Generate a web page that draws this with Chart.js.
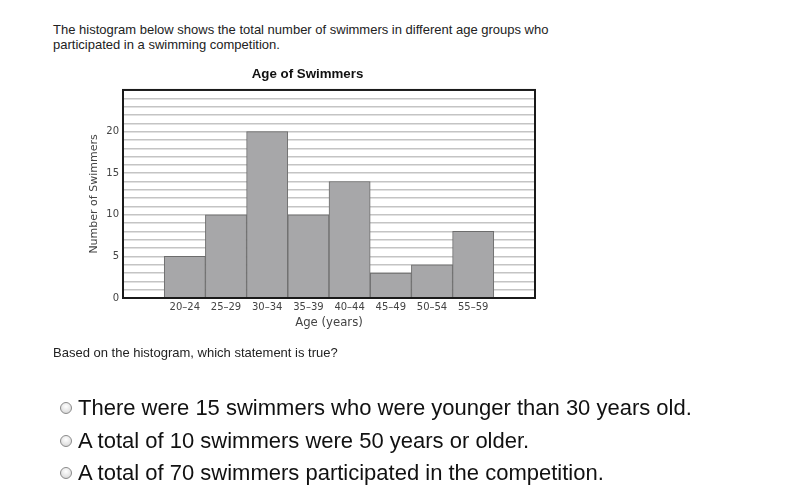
<!DOCTYPE html>
<html>
<head>
<meta charset="utf-8">
<script src="https://cdn.jsdelivr.net/npm/chart.js@4"></script>
<style>
  body { margin: 0; background: #fff; width: 800px; height: 502px; overflow: hidden; position: relative; }
  #chart { position: absolute; left: 0; top: 0; }
  .txt { position: absolute; font-family: "Liberation Sans", Arial, sans-serif; color: #222; white-space: nowrap; }
  #intro { left: 53px; top: 22px; font-size: 13px; line-height: 15px; }
  #ask { left: 53px; top: 345px; font-size: 13px; }
  .opt { left: 60px; font-size: 22px; color: #111; display: flex; align-items: center; }
  .radio { display: inline-block; width: 10px; height: 10px; border-radius: 50%; border: 1px solid #8a8a8a;
    background: radial-gradient(circle at 50% 35%, #fff 0%, #e4e4e4 60%, #c8c8c8 100%); margin-right: 6px; }
</style>
</head>
<body>
<div class="txt" id="intro">The histogram below shows the total number of swimmers in different age groups who<br>participated in a swimming competition.</div>
<canvas id="chart" width="800" height="502"></canvas>
<div class="txt" id="ask">Based on the histogram, which statement is true?</div>
<div class="txt opt" style="top:395px"><span class="radio"></span>There were 15 swimmers who were younger than 30 years old.</div>
<div class="txt opt" style="top:428px"><span class="radio"></span>A total of 10 swimmers were 50 years or older.</div>
<div class="txt opt" style="top:460px"><span class="radio"></span>A total of 70 swimmers participated in the competition.</div>
<script>
'use strict';

// Age groups (empty slots at both ends, as in the picture)
let ageGroups = ['', '20–24', '25–29', '30–34', '35–39', '40–44', '45–49', '50–54', '55–59', ''];

// Number of swimmers in each group
let swimmers = [null, 5, 10, 20, 10, 14, 3, 4, 8, null];

// Labelled ticks on the y axis
let yLabels = [0, 5, 10, 15, 20];
let yMax = 25;

// Draws the black box round the plot area
const frame = {
  id: 'frame',
  afterDraw(chart) {
    const a = chart.chartArea;
    const ctx = chart.ctx;
    ctx.save();
    ctx.strokeStyle = '#1a1a1a';
    ctx.lineWidth = 2;
    ctx.strokeRect(a.left, a.top, a.right - a.left, a.bottom - a.top);
    ctx.restore();
  }
};

const ctx = document.getElementById('chart').getContext('2d');
new Chart(ctx, {
  type: 'bar',
  data: {
    labels: ageGroups,
    datasets: [{
      data: swimmers,
      backgroundColor: '#a7a7a9',
      borderColor: '#6c6c6c',
      borderWidth: 1,
      barPercentage: 1,
      categoryPercentage: 1
    }]
  },
  options: {
    responsive: false,
    animation: false,
    layout: { padding: { left: 80, right: 265, top: 60, bottom: 162 } },
    plugins: {
      legend: { display: false },
      tooltip: { enabled: false },
      title: {
        display: true,
        text: 'Age of Swimmers',
        color: '#111',
        font: { family: 'Liberation Sans', size: 13.3, weight: 'bold' },
        padding: { top: 6, bottom: 8 }
      }
    },
    scales: {
      x: {
        grid: { display: false, drawTicks: false },
        border: { display: false },
        ticks: { color: '#444', font: { family: 'DejaVu Sans', size: 10 }, padding: 3, maxRotation: 0, autoSkip: false },
        title: { display: true, text: 'Age (years)', color: '#444', font: { family: 'DejaVu Sans', size: 11.7 }, padding: { top: 0, bottom: 10 } },
        afterFit(s) { s.height = 42; }
      },
      y: {
        min: 0,
        max: yMax,
        grid: { color: '#c4c4c4', lineWidth: 1.4, drawTicks: false },
        border: { display: false },
        ticks: {
          stepSize: 1,
          autoSkip: false,
          padding: 4,
          color: '#444',
          font: { family: 'DejaVu Sans', size: 10 },
          callback: v => (yLabels.includes(v) ? v : '')
        },
        title: { display: true, text: 'Number of Swimmers', color: '#444', font: { family: 'DejaVu Sans', size: 11 }, padding: { top: 8, bottom: 0 } },
        afterFit(s) { s.width = 43; }
      }
    }
  },
  plugins: [frame]
});
</script>
</body>
</html>
